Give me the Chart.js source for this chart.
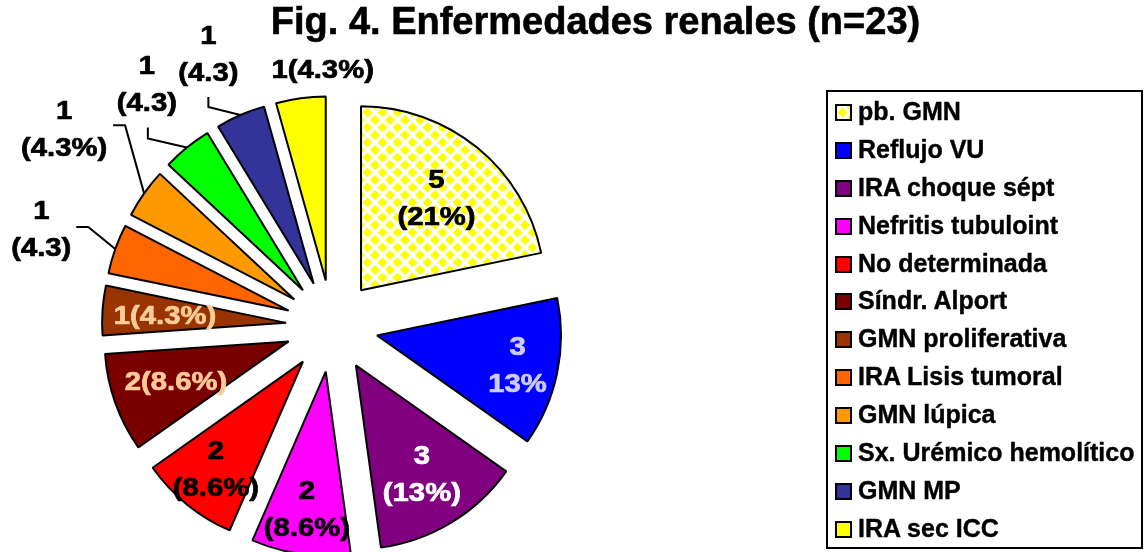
<!DOCTYPE html>
<html>
<head>
<meta charset="utf-8">
<script src="https://cdn.jsdelivr.net/npm/chart.js@4.4.1/dist/chart.umd.min.js"></script>
<style>
  html, body { margin: 0; padding: 0; background: #fff; }
  body { width: 1144px; height: 552px; position: relative; overflow: hidden;
         font-family: "Liberation Sans", Arial, sans-serif; }
  #grafico { position: absolute; left: 0; top: 0; }
  #titulo { position: absolute; left: 0; top: 2px; width: 1191px; text-align: center;
            font-weight: bold; font-size: 38px; line-height: 38px; color: #000;
            -webkit-text-stroke: 0.6px #000; }
  #leyenda { position: absolute; left: 826px; top: 90px; width: 313px; height: 454px;
             border: 2px solid #000; padding-top: 1px; box-sizing: content-box; }
  .fila { height: 37.9px; line-height: 37.9px; white-space: nowrap; font-weight: bold;
          font-size: 25px; color: #000; position: relative; -webkit-text-stroke: 0.4px #000; }
  .caja { position: absolute; left: 7px; top: 11px; width: 13px; height: 13px;
          border: 2px solid #000; }
  .texto { position: absolute; left: 30px; top: 0; }
</style>
</head>
<body>
<canvas id="grafico" width="1144" height="552"></canvas>
<div id="titulo">Fig. 4. Enfermedades renales (n=23)</div>
<div id="leyenda"></div>
<script>
// Datos del gráfico
const categorias = ['pb. GMN', 'Reflujo VU', 'IRA choque sépt', 'Nefritis tubuloint', 'No determinada',
    'Síndr. Alport', 'GMN proliferativa', 'IRA Lisis tumoral', 'GMN lúpica',
    'Sx. Urémico hemolítico', 'GMN MP', 'IRA sec ICC'];
const casos = [5, 3, 3, 2, 2, 2, 1, 1, 1, 1, 1, 1];
const etiquetas = [['5', '(21%)'], ['3', '13%'], ['3', '(13%)'], ['2', '(8.6%)'], ['2', '(8.6%)'],
    ['2(8.6%)'], ['1(4.3%)'], ['1', '(4.3)'], ['1', '(4.3%)'], ['1', '(4.3)'], ['1', '(4.3)'], ['1(4.3%)']];

// Estilos
const colores = [null, '#0000FF', '#800080', '#FF00FF', '#FF0000', '#7A0000', '#993300',
    '#FF6600', '#FF9900', '#00FF00', '#333399', '#FFFF00'];
const coloresTexto = ['#000', '#CCCCFF', '#FFFFFF', '#000', '#000', '#FFCC99', '#FFCC99',
    '#000', '#000', '#000', '#000', '#000'];
const SEPARACION = 46; // porciones separadas del centro

// Posición de las etiquetas: 'dentro' = fracción del radio; si no, desplazamiento desde el borde
const posEtiquetas = [
    { dentro: 0.65 }, { dentro: 0.78 }, { dentro: 0.69 }, { dentro: 0.75 }, { dentro: 0.75 },
    { dentro: 0.65 }, { dentro: 0.66 },
    { dx: -74, dy: -20, guia: [[-27, -22], [-39, -22]] },
    { dx: -80, dy: -65, guia: [[-19, -68], [-31, -68]] },
    { dx: -40, dy: -64, guia: [[-39, -9], [-39, -20]] },
    { dx: -32, dy: -62, guia: [[-32, -8], [-32, -18]] },
    { dx: 22, dy: -29 }
];

// Trama de rombos amarillos para "pb. GMN"
function creaTrama() {
    const c = document.createElement('canvas');
    c.width = 15; c.height = 15;
    const g = c.getContext('2d');
    g.fillStyle = '#fff';
    g.fillRect(0, 0, 15, 15);
    g.fillStyle = '#FFFF00';
    const rombo = (x, y, h) => {
        g.beginPath();
        g.moveTo(x, y - h); g.lineTo(x + h, y); g.lineTo(x, y + h); g.lineTo(x - h, y);
        g.closePath(); g.fill();
    };
    rombo(7.5, 7.5, 5);
    [[0, 0], [15, 0], [0, 15], [15, 15]].forEach(p => rombo(p[0], p[1], 5));
    return c;
}

const canvas = document.getElementById('grafico');
const ctx = canvas.getContext('2d');
const trama = creaTrama();
const fondos = colores.map(c => c === null ? ctx.createPattern(trama, 'repeat') : c);

// Separa cada porción a lo largo de su ángulo medio
const separar = {
    id: 'separar',
    afterDatasetUpdate(chart, args) {
        chart.getDatasetMeta(args.index).data.forEach(arc => {
            const medio = (arc.startAngle + arc.endAngle) / 2;
            arc.x += Math.cos(medio) * SEPARACION;
            arc.y += Math.sin(medio) * SEPARACION;
        });
    }
};

// Etiquetas de valores y líneas guía
const rotulos = {
    id: 'rotulos',
    afterDatasetsDraw(chart) {
        const c = chart.ctx;
        const arcs = chart.getDatasetMeta(0).data;
        c.save();
        c.font = 'bold 25px "Liberation Sans", Arial, sans-serif';
        c.textAlign = 'center';
        c.textBaseline = 'alphabetic';
        c.lineJoin = 'round';
        arcs.forEach((arc, i) => {
            const medio = (arc.startAngle + arc.endAngle) / 2;
            const r = arc.outerRadius;
            const pos = posEtiquetas[i];
            let cx, cy;
            if (pos.dentro !== undefined) {
                cx = arc.x + Math.cos(medio) * r * pos.dentro;
                cy = arc.y + Math.sin(medio) * r * pos.dentro;
            } else {
                const px = arc.x + Math.cos(medio) * r;
                const py = arc.y + Math.sin(medio) * r;
                cx = px + pos.dx;
                cy = py + pos.dy;
                if (pos.guia) {
                    c.strokeStyle = '#000';
                    c.lineWidth = 2;
                    c.beginPath();
                    c.moveTo(px, py);
                    pos.guia.forEach(p => c.lineTo(px + p[0], py + p[1]));
                    c.stroke();
                }
            }
            const lineas = etiquetas[i];
            const alto = 37;
            c.fillStyle = coloresTexto[i];
            c.strokeStyle = coloresTexto[i];
            c.lineWidth = 0.7;
            lineas.forEach((t, k) => {
                const y = cy + (k - (lineas.length - 1) / 2) * alto + 9;
                c.save();
                c.translate(cx, y);
                c.scale(1.17, 1);
                c.fillText(t, 0, 0);
                c.strokeText(t, 0, 0);
                c.restore();
            });
        });
        c.restore();
    }
};

new Chart(ctx, {
    type: 'pie',
    data: {
        labels: categorias,
        datasets: [{
            data: casos,
            backgroundColor: fondos,
            borderColor: '#000',
            borderWidth: 2,
            radius: 184,
            offset: 0
        }]
    },
    options: {
        responsive: false,
        animation: false,
        events: [],
        layout: { padding: { left: 0, right: 480, top: 100, bottom: 0 } },
        plugins: {
            legend: { display: false },
            tooltip: { enabled: false },
            title: { display: false }
        }
    },
    plugins: [separar, rotulos]
});

// Leyenda
const leyenda = document.getElementById('leyenda');
const urlTrama = trama.toDataURL();
categorias.forEach((nombre, i) => {
    const fila = document.createElement('div');
    fila.className = 'fila';
    const caja = document.createElement('span');
    caja.className = 'caja';
    if (colores[i] === null) {
        caja.style.background = 'url(' + urlTrama + ') -2px -1px';
    } else {
        caja.style.background = colores[i];
    }
    const texto = document.createElement('span');
    texto.className = 'texto';
    texto.textContent = nombre;
    fila.appendChild(caja);
    fila.appendChild(texto);
    leyenda.appendChild(fila);
});
</script>
</body>
</html>
